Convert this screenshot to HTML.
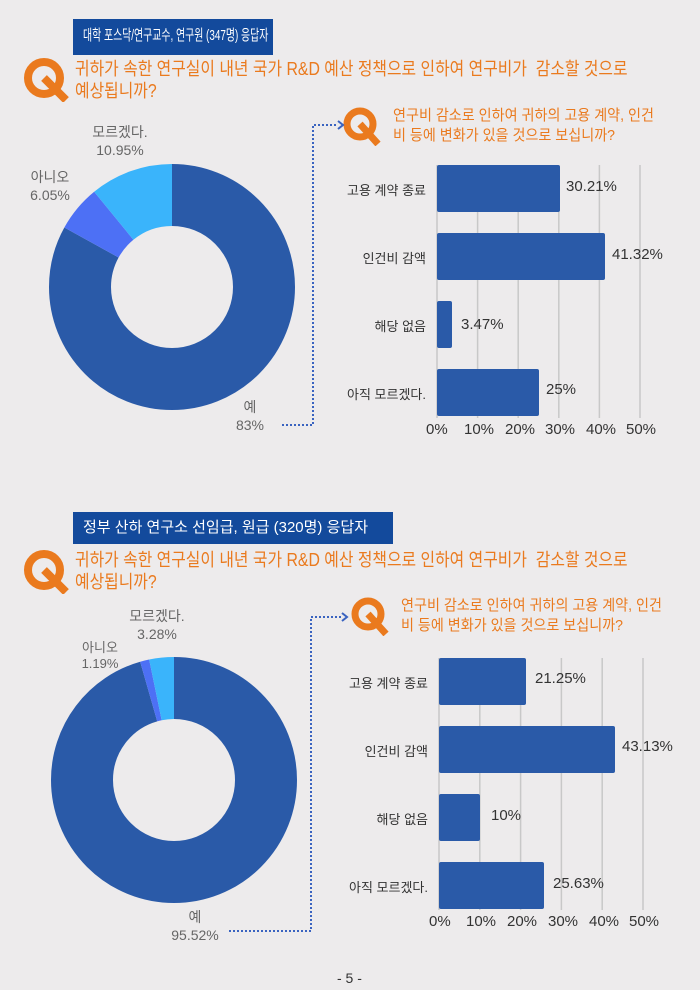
<!DOCTYPE html>
<html><head><meta charset="utf-8"><style>
body{margin:0;width:700px;height:990px;background:#edebec;font-family:"Liberation Sans","Noto Sans CJK KR",sans-serif;overflow:hidden;position:relative}
.t{position:absolute;white-space:nowrap}
.hdr{position:absolute;background:#134a9c;color:#fff;font-size:15px;line-height:34px;padding-left:10px;box-sizing:border-box;white-space:nowrap;overflow:hidden}
.q{color:#ea7a1e;font-size:18px;line-height:22px;transform:scaleX(0.88);transform-origin:0 0}
.q2{color:#ea7a1e;font-size:15px;line-height:20px;transform:scaleX(0.94);transform-origin:0 0}
.g{color:#666;font-size:14px;line-height:18px;text-align:center}
.lab{color:#333;font-size:13px}
.val{color:#333;font-size:15px}
</style></head><body>
<div class="hdr" style="left:73px;top:19px;width:200px;height:36px"><span style="display:inline-block;transform:scaleX(0.66);transform-origin:0 0">대학 포스닥/연구교수, 연구원 (347명) 응답자</span></div>
<svg class="t" style="left:22px;top:56px" width="50" height="46" viewBox="0 0 50 46"><circle cx="22" cy="22" r="16" fill="none" stroke="#ea7a1e" stroke-width="8"/><path d="M22 22 L44 44" stroke="#ea7a1e" stroke-width="8"/></svg>
<div class="t q" style="left:75px;top:58px">귀하가 속한 연구실이 내년 국가 R&amp;D 예산 정책으로 인하여 연구비가&nbsp; 감소할 것으로<br>예상됩니까?</div>
<svg class="t" style="left:342px;top:106px" width="48" height="40" viewBox="0 0 48 40"><circle cx="18" cy="18" r="13" fill="none" stroke="#ea7a1e" stroke-width="7"/><path d="M18 18 L36 38" stroke="#ea7a1e" stroke-width="7"/></svg>
<div class="t q2" style="left:393px;top:106px">연구비 감소로 인하여 귀하의 고용 계약, 인건<br>비 등에 변화가 있을 것으로 보십니까?</div>

<svg class="t" style="left:0;top:0" width="700" height="990">
<g transform="rotate(-90 172 287)">
<circle cx="172" cy="287" r="92" fill="none" stroke="#2a5aa8" stroke-width="62" stroke-dasharray="479.8 1000"/>
<circle cx="172" cy="287" r="92" fill="none" stroke="#4d70f5" stroke-width="62" stroke-dasharray="0 479.8 35 1000"/>
<circle cx="172" cy="287" r="92" fill="none" stroke="#3ab4fb" stroke-width="62" stroke-dasharray="0 514.8 63.3 1000"/>
</g>
<g transform="rotate(-90 174 780)">
<circle cx="174" cy="780" r="92" fill="none" stroke="#2a5aa8" stroke-width="62" stroke-dasharray="552.2 1000"/>
<circle cx="174" cy="780" r="92" fill="none" stroke="#4d70f5" stroke-width="62" stroke-dasharray="0 552.2 6.9 1000"/>
<circle cx="174" cy="780" r="92" fill="none" stroke="#3ab4fb" stroke-width="62" stroke-dasharray="0 559.1 19 1000"/>
</g>
<g fill="none" stroke="#3a63c0" stroke-width="2" stroke-dasharray="2 2">
<path d="M282 425 H313 V125 H338"/>
<path d="M229 931 H311 V617 H342"/>
</g>
<path d="M338 121 L343 125 L338 129" fill="none" stroke="#3a63c0" stroke-width="2"/>
<path d="M342 613 L347 617 L342 621" fill="none" stroke="#3a63c0" stroke-width="2"/>
<g stroke="#c8c8c8" stroke-width="1.5">
<line x1="477.6" y1="165" x2="477.6" y2="418"/><line x1="518.2" y1="165" x2="518.2" y2="418"/><line x1="558.8" y1="165" x2="558.8" y2="418"/><line x1="599.4" y1="165" x2="599.4" y2="418"/><line x1="640" y1="165" x2="640" y2="418"/>
<line x1="479.8" y1="658" x2="479.8" y2="910"/><line x1="520.6" y1="658" x2="520.6" y2="910"/><line x1="561.4" y1="658" x2="561.4" y2="910"/><line x1="602.2" y1="658" x2="602.2" y2="910"/><line x1="643" y1="658" x2="643" y2="910"/>
</g>
<line x1="437" y1="165" x2="437" y2="418" stroke="#c8c8c8" stroke-width="1.5"/>
<line x1="439" y1="658" x2="439" y2="910" stroke="#c8c8c8" stroke-width="1.5"/>
<g fill="#2a5aa8">
<rect x="437" y="165" width="123" height="47" rx="2"/>
<rect x="437" y="233" width="168" height="47" rx="2"/>
<rect x="437" y="301" width="15" height="47" rx="2"/>
<rect x="437" y="369" width="102" height="47" rx="2"/>
<rect x="439" y="658" width="87" height="47" rx="2"/>
<rect x="439" y="726" width="176" height="47" rx="2"/>
<rect x="439" y="794" width="41" height="47" rx="2"/>
<rect x="439" y="862" width="105" height="47" rx="2"/>
</g>
</svg>

<div class="t g" style="left:80px;top:123px;width:80px">모르겠다.<br>10.95%</div>
<div class="t g" style="left:20px;top:168px;width:60px">아니오<br>6.05%</div>
<div class="t g" style="left:225px;top:398px;width:50px">예<br>83%</div>

<div class="t lab" style="right:274px;top:180px">고용 계약 종료</div>
<div class="t lab" style="right:274px;top:248px">인건비 감액</div>
<div class="t lab" style="right:274px;top:316px">해당 없음</div>
<div class="t lab" style="right:274px;top:384px">아직 모르겠다.</div>
<div class="t val" style="left:566px;top:178px">30.21%</div>
<div class="t val" style="left:612px;top:246px">41.32%</div>
<div class="t val" style="left:461px;top:316px">3.47%</div>
<div class="t val" style="left:546px;top:381px">25%</div>
<div class="t val" style="left:426px;top:421px">0%</div>
<div class="t val" style="left:464px;top:421px">10%</div>
<div class="t val" style="left:505px;top:421px">20%</div>
<div class="t val" style="left:545px;top:421px">30%</div>
<div class="t val" style="left:586px;top:421px">40%</div>
<div class="t val" style="left:626px;top:421px">50%</div>

<div class="hdr" style="left:73px;top:512px;width:320px;height:32px;line-height:32px">정부 산하 연구소 선임급, 원급 (320명) 응답자</div>
<svg class="t" style="left:22px;top:548px" width="50" height="46" viewBox="0 0 50 46"><circle cx="22" cy="22" r="16" fill="none" stroke="#ea7a1e" stroke-width="8"/><path d="M22 22 L44 44" stroke="#ea7a1e" stroke-width="8"/></svg>
<div class="t q" style="left:75px;top:549px">귀하가 속한 연구실이 내년 국가 R&amp;D 예산 정책으로 인하여 연구비가&nbsp; 감소할 것으로<br>예상됩니까?</div>
<svg class="t" style="left:350px;top:596px" width="48" height="40" viewBox="0 0 48 40"><circle cx="18" cy="18" r="13" fill="none" stroke="#ea7a1e" stroke-width="7"/><path d="M18 18 L36 38" stroke="#ea7a1e" stroke-width="7"/></svg>
<div class="t q2" style="left:401px;top:596px">연구비 감소로 인하여 귀하의 고용 계약, 인건<br>비 등에 변화가 있을 것으로 보십니까?</div>

<div class="t g" style="left:117px;top:607px;width:80px">모르겠다.<br>3.28%</div>
<div class="t g" style="left:75px;top:640px;width:50px;font-size:13px;line-height:16px">아니오<br>1.19%</div>
<div class="t g" style="left:165px;top:908px;width:60px">예<br>95.52%</div>

<div class="t lab" style="right:272px;top:673px">고용 계약 종료</div>
<div class="t lab" style="right:272px;top:741px">인건비 감액</div>
<div class="t lab" style="right:272px;top:809px">해당 없음</div>
<div class="t lab" style="right:272px;top:877px">아직 모르겠다.</div>
<div class="t val" style="left:535px;top:670px">21.25%</div>
<div class="t val" style="left:622px;top:738px">43.13%</div>
<div class="t val" style="left:491px;top:807px">10%</div>
<div class="t val" style="left:553px;top:875px">25.63%</div>
<div class="t val" style="left:429px;top:913px">0%</div>
<div class="t val" style="left:466px;top:913px">10%</div>
<div class="t val" style="left:507px;top:913px">20%</div>
<div class="t val" style="left:548px;top:913px">30%</div>
<div class="t val" style="left:589px;top:913px">40%</div>
<div class="t val" style="left:629px;top:913px">50%</div>

<div class="t" style="left:337px;top:970px;font-size:14px;color:#333">- 5 -</div>
</body></html>
